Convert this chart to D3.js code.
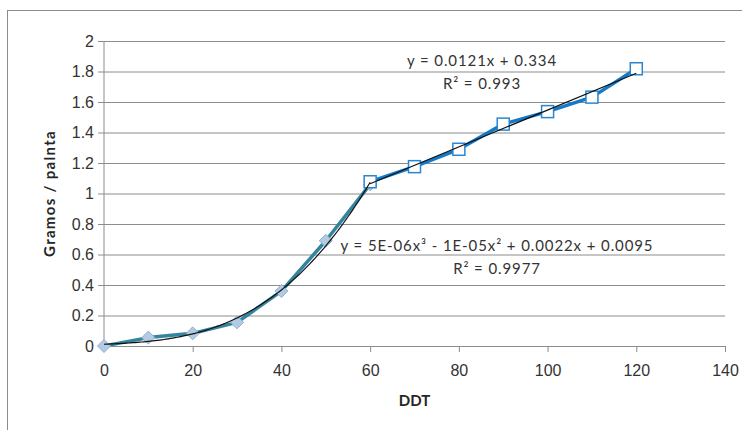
<!DOCTYPE html>
<html>
<head>
<meta charset="utf-8">
<script src="https://cdn.jsdelivr.net/npm/d3@7"></script>
<style>
  html, body { margin: 0; padding: 0; background: #fff; }
  svg { display: block; font-family: Lato, 'Open Sans', sans-serif; }
</style>
</head>
<body>
<div id="container"></div>
<script>
// series
const ddtA = [0, 10, 20, 30, 40, 50, 60]
const gramosA = [0, 0.055, 0.083, 0.155, 0.36, 0.69, 1.06]
const ddtB = [60, 70, 80, 90, 100, 110, 120]
const gramosB = [1.077, 1.176, 1.29, 1.455, 1.537, 1.632, 1.818]
const xTicks = [0, 20, 40, 60, 80, 100, 120, 140]
const yTicks = [0, 0.2, 0.4, 0.6, 0.8, 1, 1.2, 1.4, 1.6, 1.8, 2]
const linLabel = ['y = 0.0121x + 0.334', 'R² = 0.993']
const polyLabel = ['y = 5E-06x³ - 1E-05x² + 0.0022x + 0.0095', 'R² = 0.9977']

const width = 742
const height = 430
const margin = { top: 41, right: 17, bottom: 84, left: 104 }

// least squares polynomial fit (degree n)
function polyfit (xs, ys, n) {
  const m = n + 1
  const A = d3.range(m).map(i => d3.range(m + 1).map(j => {
    if (j === m) return d3.sum(xs, (x, k) => ys[k] * Math.pow(x, i))
    return d3.sum(xs, x => Math.pow(x, i + j))
  }))
  for (let c = 0; c < m; c++) {
    let p = c
    for (let r = c + 1; r < m; r++) if (Math.abs(A[r][c]) > Math.abs(A[p][c])) p = r
    const t = A[c]; A[c] = A[p]; A[p] = t
    for (let r = 0; r < m; r++) {
      if (r === c) continue
      const f = A[r][c] / A[c][c]
      for (let k = c; k <= m; k++) A[r][k] -= f * A[c][k]
    }
  }
  const coef = A.map((row, i) => row[m] / row[i])
  return x => coef.reduce((s, c, i) => s + c * Math.pow(x, i), 0)
}

const dataA = ddtA.map((d, i) => ({ x: d, y: gramosA[i] }))
const dataB = ddtB.map((d, i) => ({ x: d, y: gramosB[i] }))
const fitA = polyfit(ddtA, gramosA, 3)
const fitB = polyfit(ddtB, gramosB, 1)

const svg = d3.select('#container')
  .append('svg')
  .attr('width', width)
  .attr('height', height)

// chart frame (cropped on right and bottom)
svg.append('rect')
  .attr('x', 7.5).attr('y', 10.5)
  .attr('width', 760).attr('height', 440)
  .attr('fill', '#fff')
  .attr('stroke', '#8c8c8c')

const g = svg.append('g')
  .attr('transform', `translate(${margin.left},${margin.top})`)
const w = width - margin.left - margin.right
const h = height - margin.top - margin.bottom

const xScale = d3.scaleLinear().domain([0, 140]).range([0, w])
const yScale = d3.scaleLinear().domain([0, 2]).range([h, 0])

// gridlines + y axis
g.append('g')
  .attr('class', 'y-axis')
  .call(d3.axisLeft(yScale).tickValues(yTicks).tickSize(-w).tickSizeOuter(0).tickPadding(10).tickFormat(d3.format('~g')))
  .call(a => a.select('.domain').remove())
  .call(a => a.selectAll('.tick line').attr('stroke', '#8c8c8c').attr('x1', -6))
  .call(a => a.selectAll('.tick text').attr('fill', '#333').style('font-size', '16px').attr('font-family', null))

g.append('line')
  .attr('x1', 0).attr('x2', 0).attr('y1', 0).attr('y2', h)
  .attr('stroke', '#8c8c8c')

g.append('g')
  .attr('class', 'x-axis')
  .attr('transform', `translate(0,${h})`)
  .call(d3.axisBottom(xScale).tickValues(xTicks).tickSize(6).tickSizeOuter(0).tickPadding(13))
  .call(a => a.select('.domain').attr('stroke', '#8c8c8c'))
  .call(a => a.selectAll('.tick line').attr('stroke', '#8c8c8c'))
  .call(a => a.selectAll('.tick text').attr('fill', '#333').style('font-size', '16px').attr('font-family', null))

// axis titles
svg.append('text')
  .attr('x', margin.left + w / 2).attr('y', 406)
  .attr('text-anchor', 'middle')
  .style('font-size', '15px').style('font-weight', 'bold')
  .attr('fill', '#262626')
  .text('DDT')

svg.append('text')
  .attr('transform', `translate(55,${margin.top + h / 2}) rotate(-90)`)
  .attr('text-anchor', 'middle')
  .style('font-size', '15px').style('font-weight', 'bold')
  .style('letter-spacing', '1.3px')
  .attr('fill', '#262626')
  .text('Gramos / palnta')

const line = d3.line().x(d => xScale(d.x)).y(d => yScale(d.y))

g.append('path')
  .datum(dataA)
  .attr('fill', 'none')
  .attr('stroke', '#33859f')
  .attr('stroke-width', 3.5)
  .attr('stroke-linejoin', 'round')
  .attr('d', line)

g.append('path')
  .datum(dataB)
  .attr('fill', 'none')
  .attr('stroke', '#1479c6')
  .attr('stroke-width', 3.5)
  .attr('stroke-linejoin', 'round')
  .attr('d', line)

// markers
g.selectAll('.diamond')
  .data(dataA)
  .join('path')
  .attr('class', 'diamond')
  .attr('transform', d => `translate(${xScale(d.x)},${yScale(d.y)})`)
  .attr('d', 'M0,-6.5L6.5,0L0,6.5L-6.5,0Z')
  .attr('fill', '#b3cbe2')
  .attr('stroke', '#8fb2d2')
  .attr('stroke-width', 1)

g.selectAll('.square')
  .data(dataB)
  .join('rect')
  .attr('class', 'square')
  .attr('x', d => xScale(d.x) - 6)
  .attr('y', d => yScale(d.y) - 6)
  .attr('width', 12).attr('height', 12)
  .attr('fill', '#fff')
  .attr('stroke', '#2a86d2')
  .attr('stroke-width', 1.5)

// trendlines
const trendA = d3.range(0, 60.01, 0.5).map(x => ({ x, y: fitA(x) }))
const trendB = [60, 120].map(x => ({ x, y: fitB(x) }))
;[trendA, trendB].forEach(t => {
  g.append('path')
    .datum(t)
    .attr('fill', 'none')
    .attr('stroke', '#111')
    .attr('stroke-width', 1.2)
    .attr('d', line)
})

// trendline labels
function label (lines, cx, y0) {
  lines.forEach((t, i) => {
    svg.append('text')
      .attr('x', cx).attr('y', y0 + i * 23)
      .attr('text-anchor', 'middle')
      .style('font-size', '15px')
      .style('letter-spacing', '0.9px')
      .attr('fill', '#333')
      .text(t)
  })
}
label(linLabel, 482, 66)
label(polyLabel, 497, 251)
</script>
</body>
</html>
